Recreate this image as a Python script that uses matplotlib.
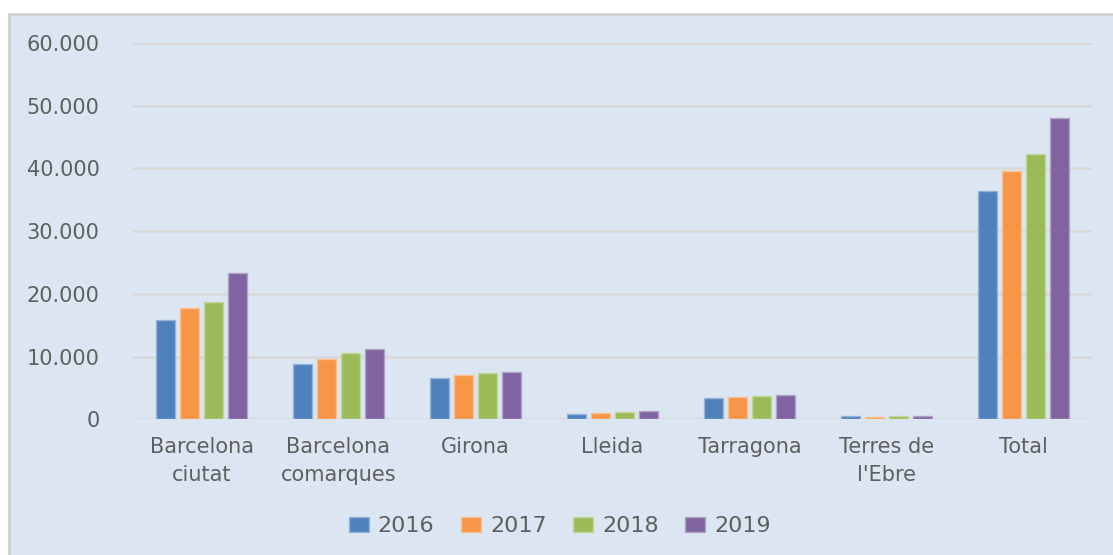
import numpy as np
import matplotlib.pyplot as plt
from matplotlib.patches import Rectangle
from matplotlib.ticker import FuncFormatter

categories = ['Barcelona\nciutat', 'Barcelona\ncomarques', 'Girona', 'Lleida',
              'Tarragona', 'Terres de\nl\'Ebre', 'Total']
years = ['2016', '2017', '2018', '2019']
v2016 = [15850, 8870, 6590, 800, 3350, 570, 36400]
v2017 = [17750, 9670, 7020, 960, 3510, 370, 39540]
v2018 = [18750, 10620, 7380, 1160, 3720, 570, 42250]
v2019 = [23390, 11190, 7590, 1370, 3920, 530, 48090]
series = [v2016, v2017, v2018, v2019]

colors = ['#4F81BD', '#F79646', '#9BBB59', '#8064A2']
edges = ['#95B3D7', '#FAC090', '#C3D69B', '#B3A2C7']
bg = '#DCE6F2'
txt = '#5F5F5F'

fig = plt.figure(figsize=(11.13, 5.55), dpi=100)
# chart area background, border only shows on top and left (cut off by the image edge)
fig.patches.append(Rectangle((9 / 1113, -0.1), 1.2, 1.1 - 14 / 555, transform=fig.transFigure,
                             facecolor=bg, edgecolor='#D0D0D0', linewidth=2, zorder=-5))

ax = fig.add_axes([133 / 1113, 1 - 419.3 / 555, (1092 - 133) / 1113, (419.3 - 43) / 555])
ax.set_facecolor('none')

x = np.arange(len(categories))
w = 0.173
for i, vals in enumerate(series):
    ax.bar(x + (i - 1.5) * w, vals, width=w * 0.8, color=colors[i], edgecolor=edges[i],
           linewidth=1, label=years[i], zorder=3)

ax.set_ylim(0, 60000)
ax.set_xlim(-0.5, len(categories) - 0.5)
ax.set_yticks(np.arange(0, 60001, 10000))
ax.yaxis.set_major_formatter(FuncFormatter(lambda v, p: '{:,.0f}'.format(v).replace(',', '.')))
ax.grid(axis='y', color='#D9D9D9', linewidth=2, zorder=0)
ax.set_axisbelow(True)
ax.set_xticks(x)
ax.set_xticklabels(categories, linespacing=1.5)
ax.tick_params(axis='y', length=0, pad=24, labelsize=15, labelcolor=txt)
ax.tick_params(axis='x', length=0, pad=13, labelsize=15, labelcolor=txt)
for s in ax.spines.values():
    s.set_visible(False)

leg = fig.legend(loc='center', bbox_to_anchor=(0.503, 0.052), ncol=4, frameon=False,
                 fontsize=16, handlelength=0.9, handleheight=0.7, handletextpad=0.4,
                 columnspacing=1.2)
for t in leg.get_texts():
    t.set_color(txt)

fig.savefig('out.png', dpi=100, facecolor='white')
